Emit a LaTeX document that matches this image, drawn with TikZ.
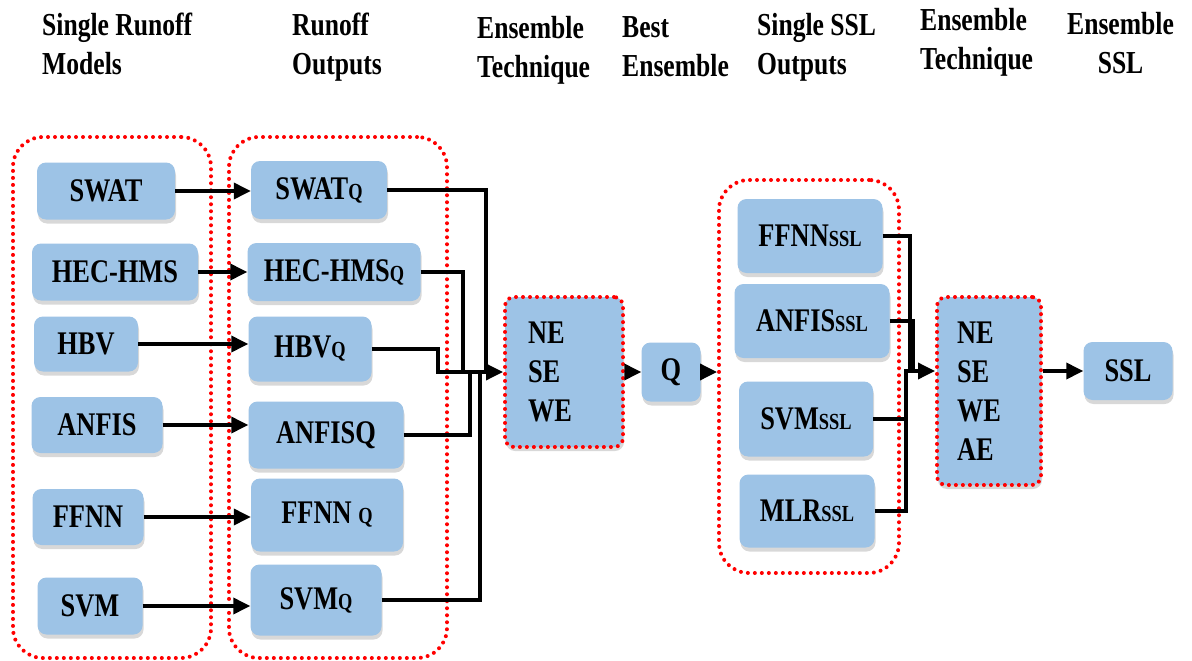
\documentclass[tikz,border=0pt]{standalone}
\usepackage{fontspec}
\setmainfont{Liberation Serif}[FakeStretch=0.8]
\usepackage{tikz}
\usetikzlibrary{arrows.meta,shadows}
\definecolor{boxblue}{RGB}{157,195,230}
\newcommand{\lo}[1]{{\fontsize{23}{23}\selectfont #1}}

\begin{document}
\begin{tikzpicture}[x=1pt,y=-1pt,
box/.style={fill=boxblue,rounded corners=9pt,inner sep=0pt,
font=\fontsize{33}{39}\selectfont\bfseries,
drop shadow={shadow xshift=1pt,shadow yshift=-4pt,opacity=0.3}},
grp/.style={draw=red,line width=4pt,line cap=round,
dash pattern=on 0pt off 7pt,rounded corners=30pt},
ens/.style={box,draw=red,line width=4pt,line cap=round,
dash pattern=on 0pt off 7pt,align=left},
head/.style={anchor=north west,inner sep=0pt,align=left,
font=\fontsize{32}{39}\selectfont\bfseries},
wire/.style={line width=3.5pt},
arr/.style={line width=3.5pt,-{Triangle[length=17pt,width=16pt]}}]
\useasboundingbox[fill=white] (0,0) rectangle (1192,661);

\node[head] (h1) at (42,13) {Single Runoff\\Models};
\node[head] (h2) at (292,13) {Runoff\\Outputs};
\node[head] (h3) at (477,16) {Ensemble\\Technique};
\node[head] (h4) at (622,16) {Best\\Ensemble};
\node[head] (h5) at (757,13) {Single SSL\\Outputs};
\node[head] (h6) at (920,8) {Ensemble\\Technique};
\node[head,align=center] (h7) at (1067,12) {Ensemble\\SSL};

\node[grp,minimum width=198pt,minimum height=521pt] (g1) at (112,397.5) {};
\node[grp,minimum width=218pt,minimum height=521pt] (g2) at (338,397.5) {};
\node[grp,minimum width=180pt,minimum height=393pt] (g3) at (809,376.5) {};

\node[box,minimum width=138pt,minimum height=57pt] (swat) at (106,191) {SWAT};
\node[box,minimum width=166pt,minimum height=57pt] (hec) at (115,272) {HEC-HMS};
\node[box,minimum width=104pt,minimum height=55pt] (hbv) at (86,344) {HBV};
\node[box,minimum width=131pt,minimum height=56pt] (anfis) at (97,425) {ANFIS};
\node[box,minimum width=111pt,minimum height=56pt] (ffnn) at (88,517) {FFNN};
\node[box,minimum width=105pt,minimum height=57pt] (svm) at (90,606) {SVM};

\node[box,minimum width=136pt,minimum height=58pt] (swatq) at (319,190) {SWAT\lo{Q}};
\node[box,minimum width=173pt,minimum height=58pt] (hecq) at (334,272) {HEC-HMS\lo{Q}};
\node[box,minimum width=123pt,minimum height=65pt] (hbvq) at (310,349) {HBV\lo{Q}};
\node[box,minimum width=155pt,minimum height=67pt] (anfisq) at (326,435) {ANFISQ};
\node[box,minimum width=152pt,minimum height=73pt] (ffnnq) at (327,515) {FFNN \lo{Q}};
\node[box,minimum width=131pt,minimum height=71pt] (svmq) at (316,600) {SVM\lo{Q}};

\node[ens,minimum width=118pt,minimum height=150pt,text width=72pt] (ens1) at (564,372) {NE\\SE\\WE};
\node[box,minimum width=59pt,minimum height=59pt] (q) at (671,372) {Q};

\node[box,minimum width=145pt,minimum height=74pt] (ffnns) at (810,236) {FFNN\lo{SSL}};
\node[box,minimum width=155pt,minimum height=74pt] (anfiss) at (812,321) {ANFIS\lo{SSL}};
\node[box,minimum width=134pt,minimum height=75pt] (svms) at (806,419) {SVM\lo{SSL}};
\node[box,minimum width=135pt,minimum height=73pt] (mlrs) at (807,511) {MLR\lo{SSL}};

\node[ens,minimum width=104pt,minimum height=188pt,text width=64pt] (ens2) at (989,391) {NE\\SE\\WE\\AE};
\node[box,minimum width=89pt,minimum height=58pt] (ssl) at (1128,371) {SSL};

\draw[arr] (swat.east) -- (swat.east -| swatq.west);
\draw[arr] (hec.east) -- (hec.east -| hecq.west);
\draw[arr] (hbv.east) -- (hbv.east -| hbvq.west);
\draw[arr] (anfis.east) -- (anfis.east -| anfisq.west);
\draw[arr] (ffnn.east) -- (ffnn.east -| ffnnq.west);
\draw[arr] (svm.east) -- (svm.east -| svmq.west);

\coordinate (c1) at (486,372);
\coordinate (c2) at (463,372);
\coordinate (c3) at (438,372);
\coordinate (c4) at (470,372);
\coordinate (c5) at (480,372);
\draw[wire] (swatq.east) -| (c1);
\draw[wire] (hecq.east) -| (c2);
\draw[wire] (anfisq.east) -| (c4);
\draw[wire] (svmq.east) -| (c5);
\draw[arr] (hbvq.east) -| (c3) -- (ens1.west);

\draw[arr] (ens1.east) -- (q.west);
\draw[arr] (q.east) -- (q.east -| g3.west);

\coordinate (d1) at (910,371);
\coordinate (d2) at (913,371);
\coordinate (d3) at (906,371);
\draw[wire] (ffnns.east) -| (d1);
\draw[wire] (anfiss.east) -| (d2);
\draw[wire] (svms.east) -| (d3);
\draw[arr] (mlrs.east) -| (d3) -- (d3 -| ens2.west);

\draw[arr] (ens2.east |- ssl.west) -- (ssl.west);
\end{tikzpicture}
\end{document}
